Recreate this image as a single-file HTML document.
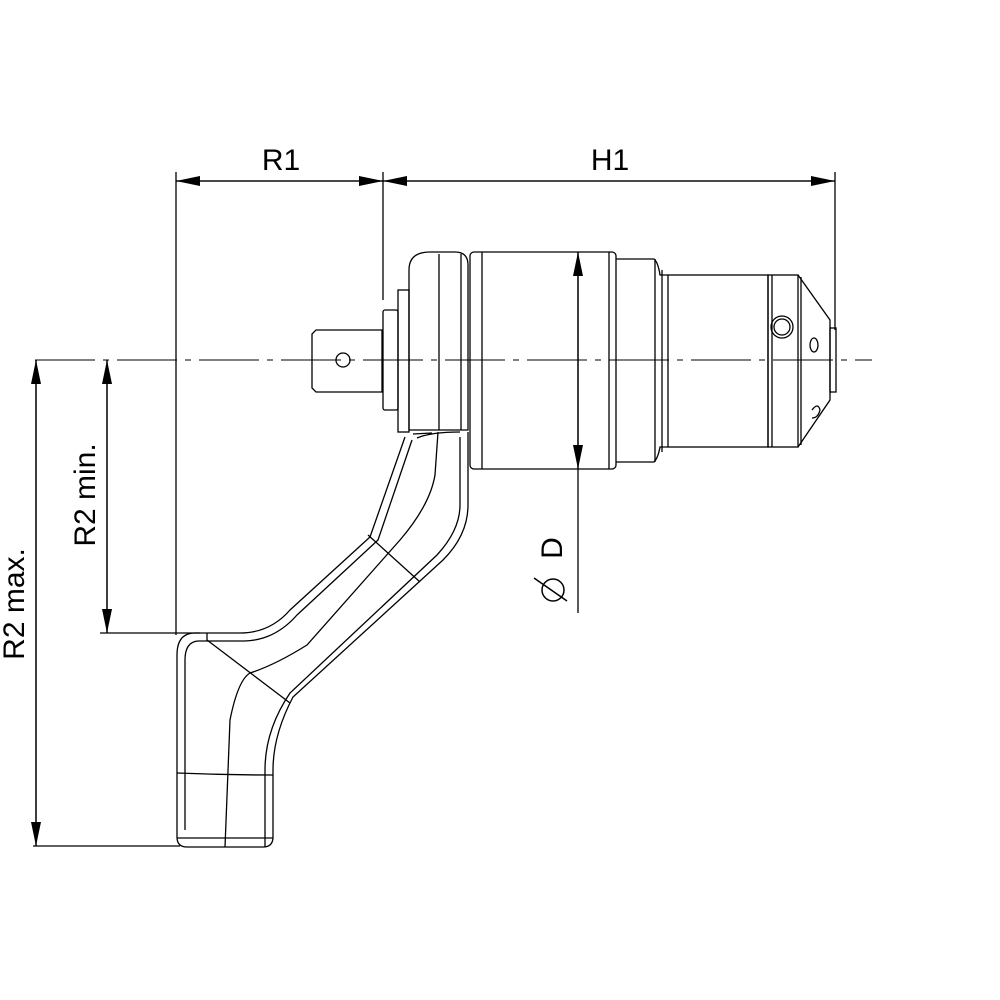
<!DOCTYPE html>
<html><head><style>html,body{margin:0;padding:0;background:#fff}svg{display:block}</style></head><body>
<svg width="1000" height="1000" viewBox="0 0 1000 1000" xmlns="http://www.w3.org/2000/svg">
<defs><marker id="a" markerWidth="24" markerHeight="10" refX="24" refY="5" orient="auto" markerUnits="userSpaceOnUse"><path d="M0,0 L24,5 L0,10 Z" fill="#000"/></marker></defs>
<g fill="none" stroke="#000" stroke-width="1.3">
<line x1="176" y1="172" x2="176" y2="635"/>
<line x1="383" y1="172" x2="383" y2="300"/>
<line x1="835" y1="172" x2="835" y2="330"/>
<line x1="100" y1="633" x2="200" y2="633"/>
<line x1="33" y1="846" x2="180" y2="846"/>
<line x1="383" y1="181" x2="176" y2="181" marker-end="url(#a)"/>
<line x1="176" y1="181" x2="383" y2="181" marker-end="url(#a)"/>
<line x1="835" y1="181" x2="383" y2="181" marker-end="url(#a)"/>
<line x1="383" y1="181" x2="835" y2="181" marker-end="url(#a)"/>
<line x1="36" y1="846" x2="36" y2="360" marker-end="url(#a)"/>
<line x1="36" y1="360" x2="36" y2="846" marker-end="url(#a)"/>
<line x1="107" y1="633" x2="107" y2="360" marker-end="url(#a)"/>
<line x1="107" y1="360" x2="107" y2="633" marker-end="url(#a)"/>
<line x1="578" y1="469" x2="578" y2="252" marker-end="url(#a)"/>
<line x1="578" y1="252" x2="578" y2="469" marker-end="url(#a)"/>
<line x1="578" y1="469" x2="578" y2="613"/>
<line x1="35" y1="360" x2="872" y2="360" stroke-width="1" stroke-dasharray="60,8,6,8"/>
<path d="M316,330 L382,330 L382,392 L316,392 L312,388 L312,334 Z"/>
<circle cx="343" cy="360" r="7"/>
<rect x="383" y="310" width="15" height="100" rx="2"/>
<rect x="398" y="290" width="11" height="142"/>
<path d="M409,270 Q409,252 430,252 L455,252 Q468,252 468,265 L468,430 L409,430 Z"/>
<line x1="439" y1="254" x2="439" y2="430"/>
<line x1="461" y1="254" x2="461" y2="430"/>
<rect x="470" y="252" width="146" height="217" rx="4"/>
<line x1="482" y1="252" x2="482" y2="469"/>
<line x1="609" y1="252" x2="609" y2="469"/>
<path d="M616,259 L654,259 Q658,262 660,275 L668,275 M616,462 L654,462 Q658,458 660,447 L668,447"/>
<line x1="655" y1="259" x2="655" y2="462"/>
<line x1="662" y1="270" x2="662" y2="452"/>
<rect x="668" y="275" width="100" height="172"/>
<rect x="768" y="275" width="30" height="172"/>
<line x1="772" y1="275" x2="772" y2="447"/>
<path d="M798,275 L830,320 L830,400 L798,447"/>
<line x1="801" y1="277" x2="801" y2="445"/>
<rect x="830" y="328" width="6" height="64"/>
<circle cx="782" cy="327" r="11"/><circle cx="782" cy="327" r="8"/>
<ellipse cx="814" cy="345" rx="4" ry="7"/>
<path d="M812,410 Q818,402 820,410 Q818,418 812,418"/>
<path d="M405,437 L370,537 L290,610 Q270,633 240,633 L195,633 Q177,633 177,655 L177,837 Q177,847 187,847 L263,847 Q273,847 273,837 L273,770 Q273,735 293,697 L443,560 Q468,535 468,505 L468,432"/>
<path d="M412,440 L378,540 L297,615 Q275,640 245,641 L198,641 Q185,642 185,660 L185,830"/>
<path d="M417,438 Q431,432 460,432 M413,434 L432,433"/>
<path d="M438,432 L435,475 Q430,505 400,540 L307,645 Q275,665 250,673 Q238,680 230,720 L225,847"/>
<path d="M460,437 L460,505 Q460,530 437,555 L290,693 Q265,730 265,770 L265,847"/>
<line x1="368" y1="535" x2="420" y2="582"/>
<line x1="207" y1="640" x2="290" y2="703"/>
<path d="M177,773 Q225,775 273,775"/>
<line x1="177" y1="838" x2="273" y2="838"/>
<line x1="207" y1="633" x2="207" y2="641"/>
</g>
<g font-family="Liberation Sans, sans-serif" font-size="30" fill="#000">
<text x="281" y="170" text-anchor="middle">R1</text>
<text x="610" y="170" text-anchor="middle">H1</text>
<text transform="translate(24,604) rotate(-90)" text-anchor="middle">R2 max.</text>
<text transform="translate(95,495) rotate(-90)" text-anchor="middle">R2 min.</text>
<text transform="translate(562,548) rotate(-90)" text-anchor="middle">D</text>
</g>
<g fill="none" stroke="#000" stroke-width="1.5">
<ellipse cx="553" cy="590" rx="11" ry="11"/>
<line x1="534" y1="578" x2="567" y2="601"/>
</g>
</svg>
</body></html>
